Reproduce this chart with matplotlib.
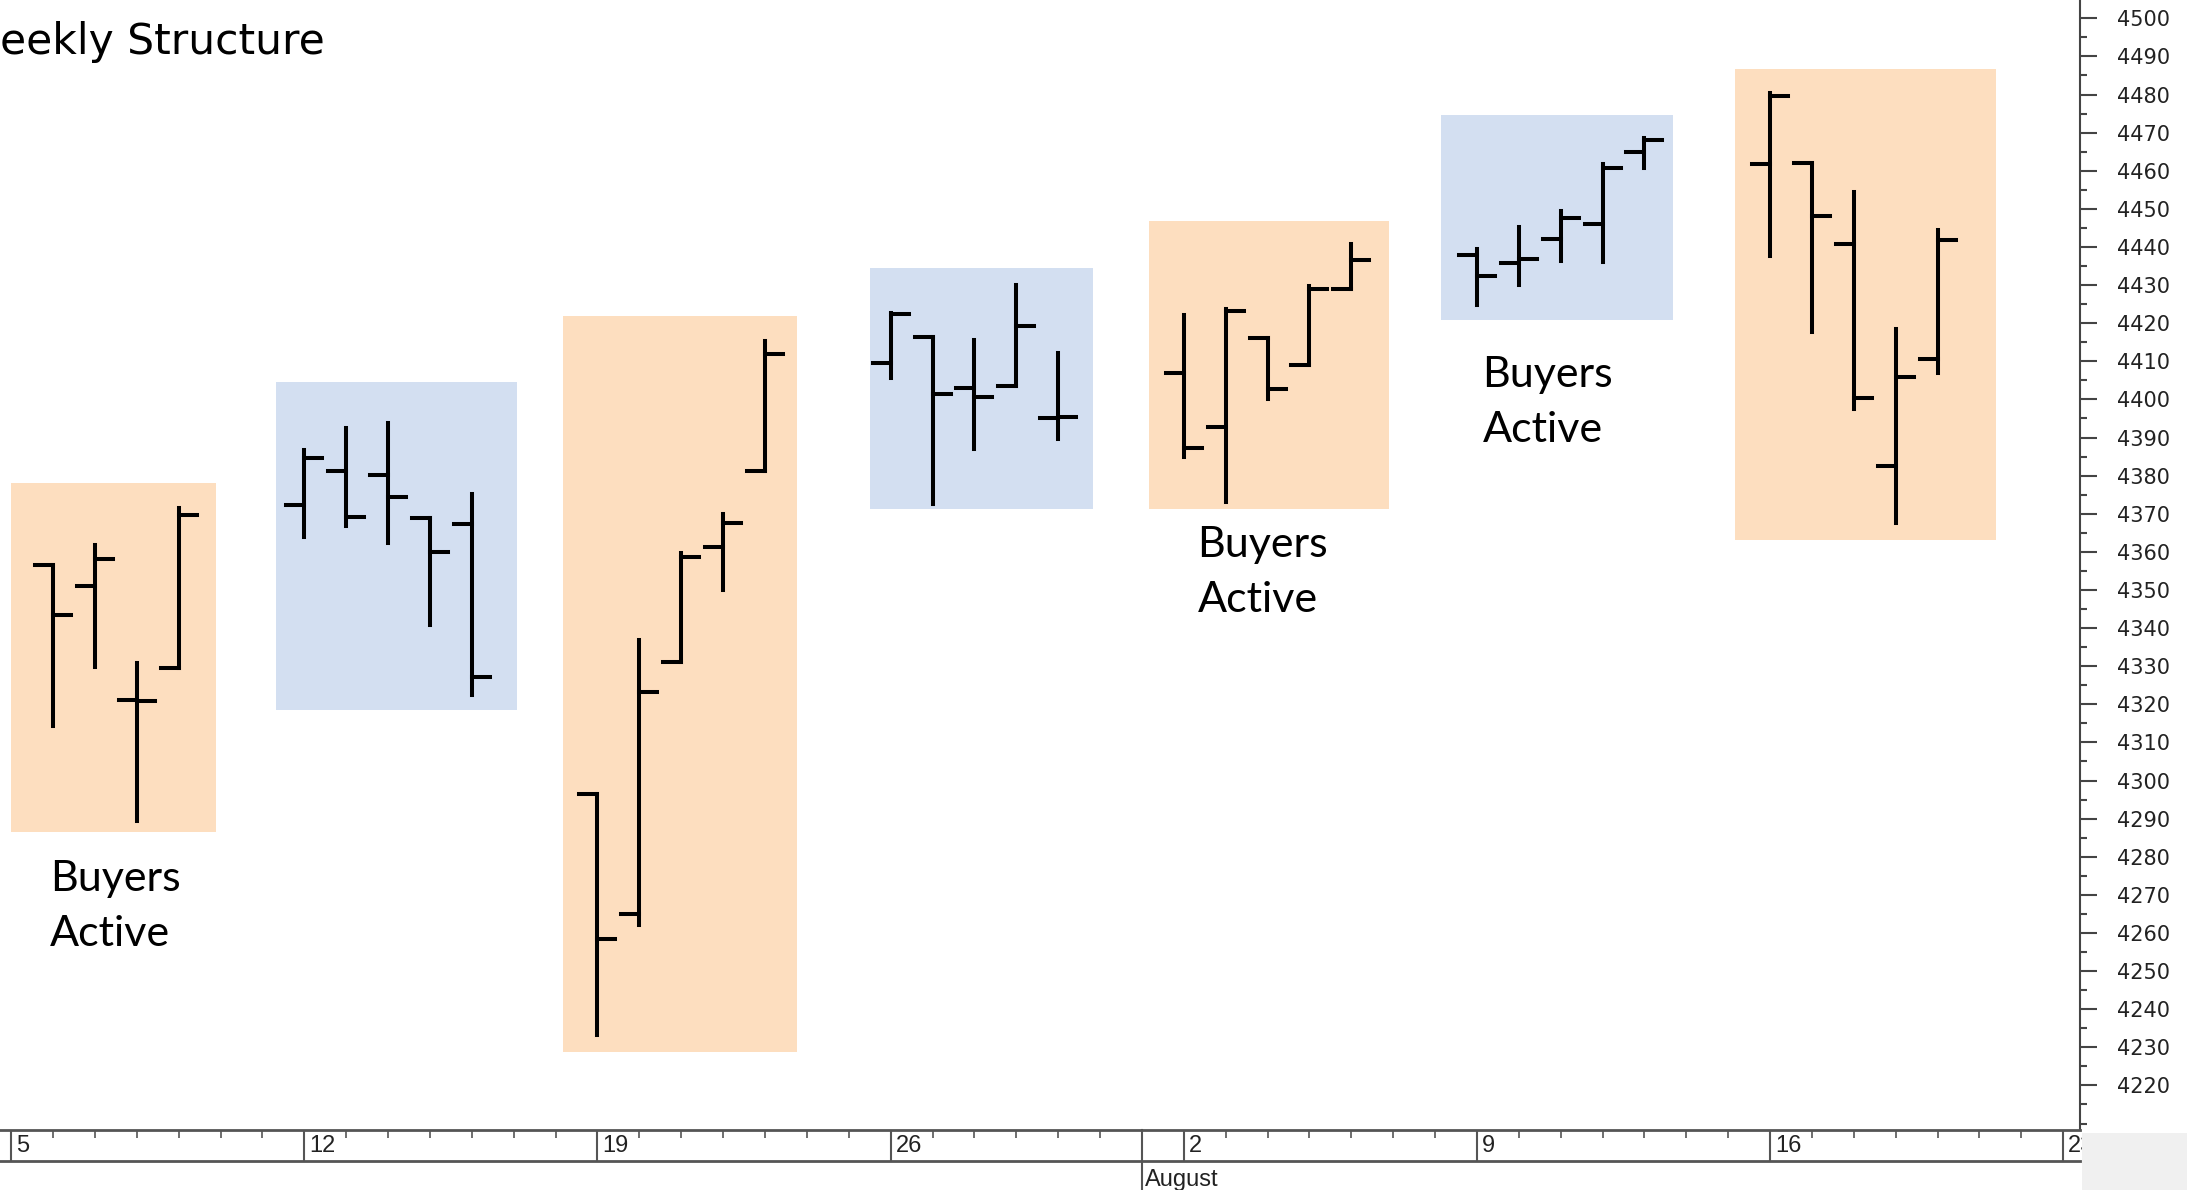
import numpy as np
import matplotlib.pyplot as plt
from matplotlib.patches import Rectangle
from matplotlib.ticker import MultipleLocator

# daily OHLC bars, x = calendar day counted from Mon 5 July
days = [1, 2, 3, 4, 7, 8, 9, 10, 11, 14, 15, 16, 17, 18, 21, 22, 23, 24, 25,
        28, 29, 30, 31, 32, 35, 36, 37, 38, 39, 42, 43, 44, 45, 46]
opens = [4356.5, 4351.0, 4321.1, 4329.4, 4372.4, 4381.1, 4380.1, 4369.0, 4367.4,
         4296.4, 4265.1, 4331.1, 4361.3, 4381.2, 4409.6, 4416.4, 4403.0, 4403.6, 4395.1,
         4406.9, 4392.7, 4416.0, 4408.9, 4429.1, 4437.8, 4435.8, 4442.2, 4446.1, 4464.8,
         4461.7, 4462.1, 4440.9, 4382.4, 4410.6]
highs = [4356.5, 4361.9, 4330.9, 4371.6, 4386.7, 4392.4, 4393.7, 4369.0, 4375.1,
         4296.4, 4336.8, 4359.7, 4369.9, 4415.2, 4422.7, 4416.4, 4415.5, 4430.0, 4412.3,
         4422.2, 4423.8, 4416.2, 4429.8, 4440.8, 4439.4, 4445.2, 4449.4, 4461.8, 4468.7,
         4480.3, 4462.1, 4454.3, 4418.6, 4444.4]
lows = [4314.4, 4329.8, 4289.4, 4329.4, 4364.0, 4366.9, 4362.4, 4340.7, 4322.5,
        4233.1, 4262.1, 4331.1, 4350.1, 4381.2, 4405.5, 4372.5, 4387.0, 4403.6, 4389.7,
        4384.8, 4373.0, 4400.2, 4408.9, 4429.1, 4424.7, 4430.0, 4436.4, 4436.0, 4460.8,
        4437.7, 4417.8, 4397.6, 4367.7, 4406.8]
closes = [4343.5, 4358.1, 4320.8, 4369.6, 4384.6, 4369.2, 4374.3, 4360.0, 4327.2,
          4258.5, 4323.1, 4358.7, 4367.5, 4411.8, 4422.3, 4401.5, 4400.6, 4419.2, 4395.3,
          4387.2, 4423.2, 4402.7, 4429.1, 4436.5, 4432.4, 4436.8, 4447.7, 4460.8, 4468.0,
          4479.7, 4448.1, 4400.3, 4405.8, 4441.7]

# shaded weekly boxes (day range, price range)
box_x0 = [0.0, 6.33, 13.17, 20.5, 27.17, 34.13, 41.17]
box_x1 = [4.9, 12.07, 18.77, 25.83, 32.9, 39.67, 47.4]
box_lo = [4286.6, 4318.4, 4228.8, 4371.2, 4371.2, 4420.9, 4363.1]
box_hi = [4378.1, 4404.5, 4422.0, 4434.5, 4446.9, 4474.7, 4486.8]
box_kind = ['orange', 'blue', 'orange', 'blue', 'orange', 'blue', 'orange']

label_x = [0.93, 28.33, 35.13]
label_y = [4267.0, 4354.5, 4399.2]

week_days = [0, 7, 14, 21, 28, 35, 42, 49]
week_labels = ['5', '12', '19', '26', '2', '9', '16', '23']
month_day = 27
month_label = 'August'

colors = {'orange': '#FDDEBF', 'blue': '#D3DFF1'}

W, H = 2187, 1190
fig = plt.figure(figsize=(W / 100, H / 100), dpi=100)
fig.patch.set_facecolor('white')

xlim = (-0.267, 49.4)
axis_x = 2080
band_top, band_bot = 1130, 1161

ax = fig.add_axes([0, 1 - band_top / H, axis_x / W, band_top / H])
ax.set_xlim(*xlim)
ax.set_ylim(4208.3, 4504.8)

for x0, x1, lo, hi, k in zip(box_x0, box_x1, box_lo, box_hi, box_kind):
    ax.add_patch(Rectangle((x0, lo), x1 - x0, hi - lo, facecolor=colors[k],
                           edgecolor='none', zorder=1))

d = np.array(days)
w = 0.43
ax.vlines(d, lows, highs, color='black', lw=2.9, capstyle='projecting', zorder=3)
ax.hlines(opens, d - w, d, color='black', lw=2.9, capstyle='projecting', zorder=3)
ax.hlines(closes, d, d + w, color='black', lw=2.9, capstyle='projecting', zorder=3)

for x, y in zip(label_x, label_y):
    ax.text(x, y, 'Buyers\nActive', ha='left', va='center', fontsize=31,
            family='Lato', linespacing=1.55, zorder=4)

for s in ['top', 'left', 'bottom']:
    ax.spines[s].set_visible(False)
ax.spines['right'].set_color('#444444')
ax.spines['right'].set_linewidth(1.5)
ax.set_xticks([])
ax.yaxis.tick_right()
ax.set_yticks(np.arange(4220, 4501, 10))
ax.yaxis.set_minor_locator(MultipleLocator(5))
ax.tick_params(axis='y', which='major', length=12, width=1.5, color='#444444',
               pad=15, labelsize=15, labelcolor='#222222')
ax.tick_params(axis='y', which='minor', length=5, width=1.5, color='#444444')

# date band
axb = fig.add_axes([0, 1 - band_bot / H, axis_x / W, (band_bot - band_top) / H])
axb.set_xlim(*xlim)
axb.set_ylim(0, 1)
axb.set_yticks([])
axb.patch.set_alpha(0)
for s in ['left', 'right']:
    axb.spines[s].set_visible(False)
for s in ['top', 'bottom']:
    axb.spines[s].set_color('#555555')
    axb.spines[s].set_linewidth(2)
axb.set_xticks(week_days)
axb.set_xticks(range(0, 50), minor=True)
axb.tick_params(axis='x', which='major', direction='in', bottom=True, top=False,
                length=22, width=1.5, color='#555555', labelbottom=False)
axb.tick_params(axis='x', which='minor', direction='in', bottom=False, top=True,
                length=6, width=1.2, color='#555555')
for dd, lab in zip(week_days, week_labels):
    axb.text(dd + 0.12, 0.47, lab, ha='left', va='center', fontsize=17,
             family='Liberation Sans', color='#222222', clip_on=False)
axb.plot([month_day, month_day], [1, -0.95], transform=axb.get_xaxis_transform(),
         color='#555555', lw=1.5, clip_on=False)
axb.text(month_day + 0.08, -0.6, month_label, ha='left', va='center', fontsize=17,
         family='Liberation Sans', color='#222222', clip_on=False)

# grey corner of the chart window
fig.add_artist(Rectangle((2082 / W, 0), 1 - 2082 / W, (H - 1133) / H,
                         transform=fig.transFigure, facecolor='#F0F0F0',
                         edgecolor='none', zorder=10))

fig.text(0, 1 - 42 / H, 'eekly Structure', ha='left', va='center', fontsize=30.5,
         family='DejaVu Sans', color='black')

fig.savefig('out.png', dpi=100)
